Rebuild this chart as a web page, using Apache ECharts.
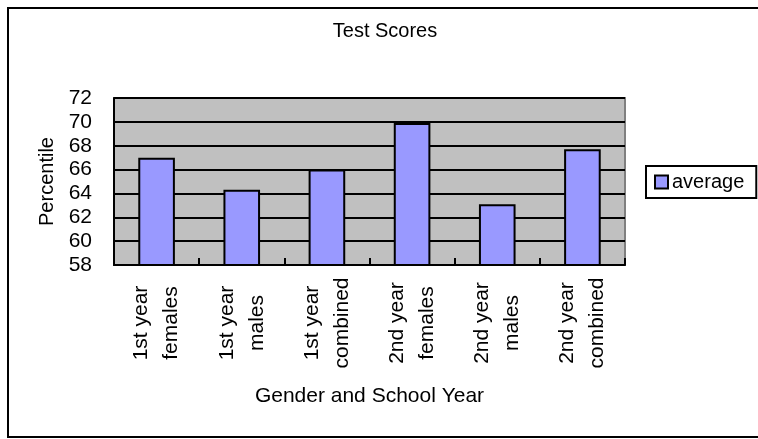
<!DOCTYPE html>
<html>
<head>
<meta charset="utf-8">
<script src="https://cdn.jsdelivr.net/npm/echarts@6/dist/echarts.min.js"></script>
<style>
  html, body { margin: 0; padding: 0; background: #fff; }
  #chart { width: 758px; height: 439px; }
</style>
</head>
<body>
<div id="chart"></div>
<script>
// values
const categories = ['1st year females', '1st year males', '1st year combined',
  '2nd year females', '2nd year males', '2nd year combined']
const averages = [67.0, 64.3, 66.0, 69.9, 63.1, 67.7]
const yTicks = { min: 58, max: 72, step: 2 }

const FONT = 'Liberation Sans'

const chart = echarts.init(document.getElementById('chart'))

chart.setOption({
  backgroundColor: '#fff',
  animation: false,
  textStyle: { fontFamily: FONT, color: '#000' },
  title: {
    text: 'Test Scores',
    left: 385,
    top: 21,
    textAlign: 'center',
    padding: 0,
    textStyle: { fontFamily: FONT, fontSize: 20, fontWeight: 'normal', color: '#000' }
  },
  // outer chart frame
  graphic: [{
    type: 'rect',
    shape: { x: 8, y: 8, width: 780, height: 429 },
    style: { fill: 'none', stroke: '#000', lineWidth: 2 },
    silent: true
  }],
  legend: {
    left: 646,
    top: 166,
    orient: 'vertical',
    padding: [6, 12, 6, 8],
    borderColor: '#000',
    borderWidth: 2,
    itemWidth: 13,
    itemHeight: 13,
    itemGap: 0,
    icon: 'rect',
    textStyle: { fontFamily: FONT, fontSize: 20, color: '#000', padding: [0, 0, 0, -1] },
    data: ['average']
  },
  grid: {
    left: 114,
    right: 133,
    top: 98,
    bottom: 174,
    show: true,
    backgroundColor: '#c0c0c0',
    borderColor: '#808080',
    borderWidth: 2
  },
  xAxis: {
    type: 'category',
    data: categories,
    z: 5,
    name: 'Gender and School Year',
    nameLocation: 'middle',
    nameGap: 121,
    nameTextStyle: { fontFamily: FONT, fontSize: 21, color: '#000', verticalAlign: 'top' },
    axisLine: { lineStyle: { color: '#000', width: 2 } },
    axisTick: { show: true, interval: 0, inside: true, length: 7, lineStyle: { color: '#000', width: 2 } },
    axisLabel: {
      interval: 0,
      rotate: 90,
      align: 'center',
      verticalAlign: 'middle',
      margin: 58,
      lineHeight: 30,
      fontFamily: FONT,
      fontSize: 21,
      color: '#000',
      formatter: v => v.replace(/ (\S+)$/, '\n$1')
    }
  },
  yAxis: {
    type: 'value',
    min: yTicks.min,
    max: yTicks.max,
    interval: yTicks.step,
    name: 'Percentile',
    nameLocation: 'middle',
    nameGap: 55,
    nameTextStyle: { fontFamily: FONT, fontSize: 20, color: '#000' },
    axisLine: { show: true, lineStyle: { color: '#000', width: 2 } },
    axisTick: { show: false },
    splitLine: { lineStyle: { color: '#000', width: 2 } },
    axisLabel: { margin: 22, fontFamily: FONT, fontSize: 21, color: '#000' }
  },
  series: [{
    name: 'average',
    type: 'bar',
    data: averages,
    barWidth: '43%',
    itemStyle: { color: '#9999ff', borderColor: '#000', borderWidth: 2 }
  }]
})
</script>
</body>
</html>
